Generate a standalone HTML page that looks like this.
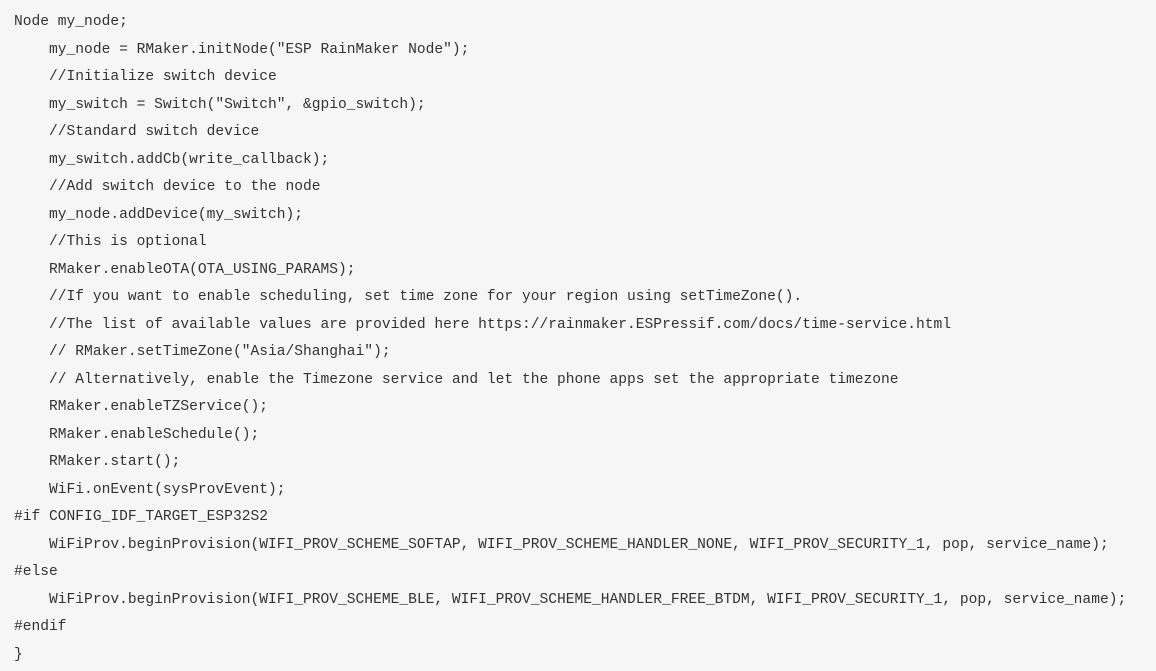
<!DOCTYPE html>
<html><head><meta charset="utf-8"><style>
html,body{margin:0;padding:0;background:#f6f6f6;width:1156px;height:671px;overflow:hidden}
pre{margin:0;position:absolute;left:14px;top:9px;font-family:"Liberation Mono",monospace;font-size:14.6px;line-height:27.5px;color:#333;white-space:pre}
</style></head><body><pre>Node my_node;
    my_node = RMaker.initNode("ESP RainMaker Node");
    //Initialize switch device
    my_switch = Switch("Switch", &amp;gpio_switch);
    //Standard switch device
    my_switch.addCb(write_callback);
    //Add switch device to the node
    my_node.addDevice(my_switch);
    //This is optional
    RMaker.enableOTA(OTA_USING_PARAMS);
    //If you want to enable scheduling, set time zone for your region using setTimeZone().
    //The list of available values are provided here https://rainmaker.ESPressif.com/docs/time-service.html
    // RMaker.setTimeZone("Asia/Shanghai");
    // Alternatively, enable the Timezone service and let the phone apps set the appropriate timezone
    RMaker.enableTZService();
    RMaker.enableSchedule();
    RMaker.start();
    WiFi.onEvent(sysProvEvent);
#if CONFIG_IDF_TARGET_ESP32S2
    WiFiProv.beginProvision(WIFI_PROV_SCHEME_SOFTAP, WIFI_PROV_SCHEME_HANDLER_NONE, WIFI_PROV_SECURITY_1, pop, service_name);
#else
    WiFiProv.beginProvision(WIFI_PROV_SCHEME_BLE, WIFI_PROV_SCHEME_HANDLER_FREE_BTDM, WIFI_PROV_SECURITY_1, pop, service_name);
#endif
}</pre></body></html>
